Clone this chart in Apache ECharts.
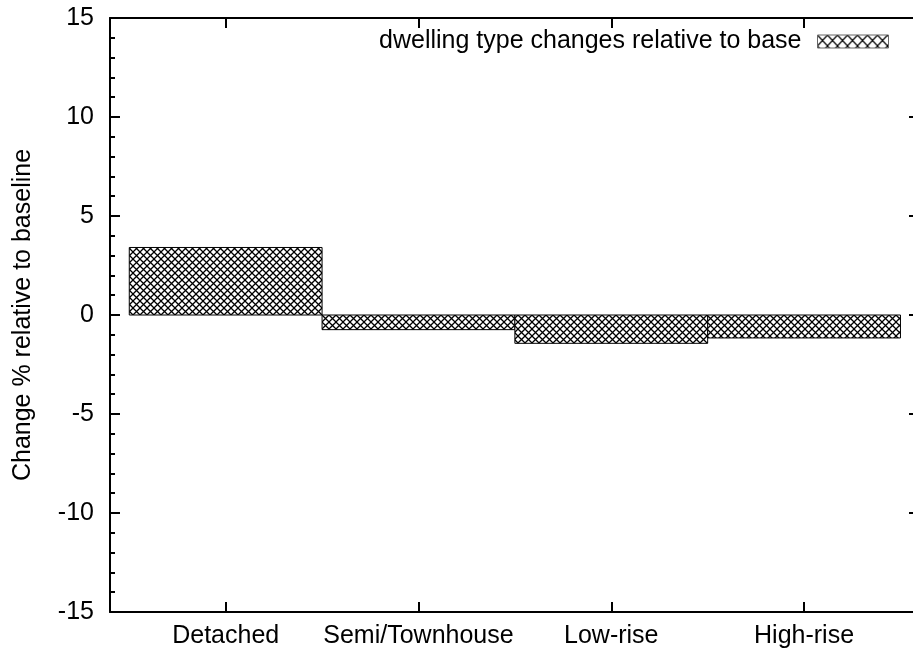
<!DOCTYPE html>
<html><head><meta charset="utf-8">
<script src="https://cdn.jsdelivr.net/npm/echarts@6/dist/echarts.min.js"></script>
<style>html,body{margin:0;padding:0;background:#fff}#c{width:913px;height:653px}</style>
</head><body><div id="c"></div>
<script>
const categories = ['Detached', 'Semi/Townhouse', 'Low-rise', 'High-rise'];
const values = [3.41, -0.74, -1.43, -1.16];
const catPositions = [0, 1, 2, 3];
const seriesName = 'dwelling type changes relative to base';
const yTitle = 'Change % relative to baseline';

const FONT = 'Liberation Sans, Arial, sans-serif';
const FS = 25;

function makePattern(w, h, lw) {
  const c = document.createElement('canvas');
  c.width = w; c.height = h;
  const g = c.getContext('2d');
  g.fillStyle = '#fff'; g.fillRect(0, 0, w, h);
  g.strokeStyle = '#000'; g.lineWidth = lw;
  g.beginPath();
  const sx = w / h;
  g.moveTo(-sx, -1); g.lineTo(w + sx, h + 1);
  g.moveTo(-sx, h + 1); g.lineTo(w + sx, -1);
  g.stroke();
  return { image: c, repeat: 'repeat' };
}
const pattern = makePattern(7, 7, 1.3);
const legendPattern = makePattern(10, 11, 1.2);

const chart = echarts.init(document.getElementById('c'), null, { renderer: 'canvas' });
const data = catPositions.map((p, i) => [p, values[i]]);

const axisCommon = {
  axisLine: { show: true, onZero: false, lineStyle: { color: '#000', width: 2 } },
  splitLine: { show: false }
};
const XMIN = -0.6, XMAX = 3.565;

chart.setOption({
  animation: false,
  backgroundColor: '#fff',
  textStyle: { fontFamily: FONT },
  grid: { left: 110, top: 18, right: 0, bottom: 41, containLabel: false },
  legend: {
    show: true,
    data: [seriesName],
    right: 24, top: 29, padding: 0,
    align: 'right',
    itemWidth: 71, itemHeight: 13,
    icon: 'rect',
    itemStyle: { color: legendPattern, borderColor: '#666', borderWidth: 1 },
    textStyle: { fontFamily: FONT, fontSize: FS, color: '#000', padding: [0, 11, 0, 0] }
  },
  xAxis: [
    Object.assign({}, axisCommon, {
      type: 'value', position: 'bottom', min: XMIN, max: XMAX,
      axisTick: { show: true, inside: true, length: 10, customValues: catPositions, lineStyle: { color: '#000', width: 2 } },
      axisLabel: { show: true, customValues: catPositions, margin: 12, color: '#000', fontFamily: FONT, fontSize: FS,
        formatter: v => categories[Math.round(v)] }
    }),
    Object.assign({}, axisCommon, {
      type: 'value', position: 'top', min: XMIN, max: XMAX,
      axisTick: { show: true, inside: true, length: 10, customValues: catPositions, lineStyle: { color: '#000', width: 2 } },
      axisLabel: { show: false }
    })
  ],
  yAxis: [
    Object.assign({}, axisCommon, {
      type: 'value', position: 'left', min: -15, max: 15, interval: 5,
      axisTick: { show: true, inside: true, length: 10, lineStyle: { color: '#000', width: 2 } },
      minorTick: { show: true, splitNumber: 5, length: 5, lineStyle: { color: '#000', width: 2 } },
      axisLabel: { show: true, margin: 16, color: '#000', fontFamily: FONT, fontSize: FS },
      name: yTitle, nameLocation: 'middle', nameGap: 74, nameRotate: 90,
      nameTextStyle: { color: '#000', fontFamily: FONT, fontSize: FS }
    }),
    Object.assign({}, axisCommon, {
      type: 'value', position: 'right', min: -15, max: 15, interval: 5,
      axisLine: { show: false, onZero: false },
      axisTick: { show: true, inside: true, length: 4, lineStyle: { color: '#000', width: 2 } },
      minorTick: { show: false },
      axisLabel: { show: false }
    })
  ],
  series: [{
    type: 'custom',
    name: seriesName,
    xAxisIndex: 0, yAxisIndex: 0,
    itemStyle: { color: pattern, borderColor: '#000', borderWidth: 1 },
    data: data,
    renderItem: function (params, api) {
      const x = api.value(0), v = api.value(1);
      const p0 = api.coord([x - 0.5, 0]);
      const p1 = api.coord([x + 0.5, v]);
      return {
        type: 'rect',
        shape: { x: Math.min(p0[0], p1[0]), y: Math.min(p0[1], p1[1]),
                 width: Math.abs(p1[0] - p0[0]), height: Math.abs(p1[1] - p0[1]) },
        style: { fill: pattern, stroke: '#000', lineWidth: 1 }
      };
    }
  }]
});
</script>
</body></html>
